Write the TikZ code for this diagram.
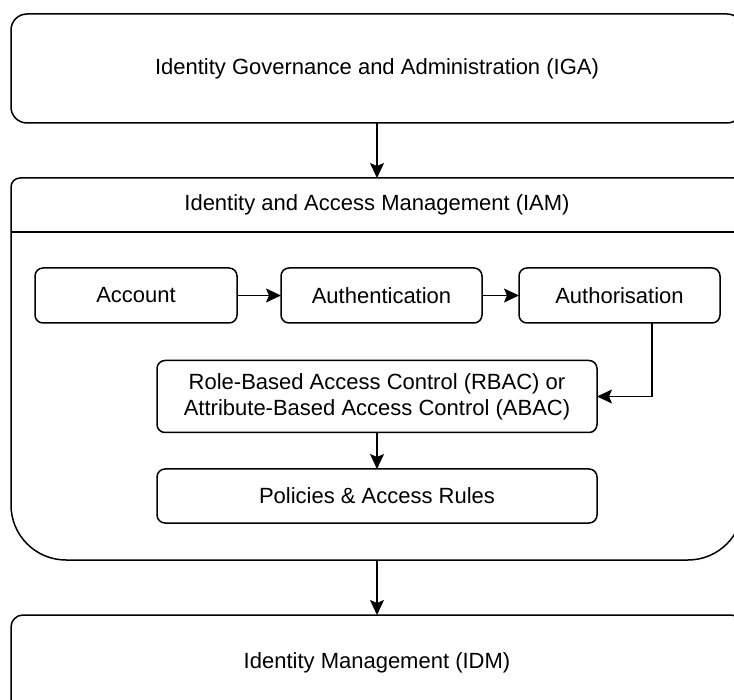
\documentclass[tikz,border=0pt]{standalone}
\usepackage{fontspec}
\setmainfont{Liberation Sans}
\usetikzlibrary{arrows.meta}
\begin{document}
\begin{tikzpicture}[x=1pt,y=-1pt,line width=1.5pt,
  txt/.style={font=\fontsize{22}{26}\selectfont, align=center},
  box/.style={txt, draw, rounded corners=8pt, inner sep=0pt, outer sep=0pt},
  bigbox/.style={box, rounded corners=16pt, minimum width=732pt},
  arr/.style={-{Stealth[length=15pt,width=14pt,inset=3pt]}}]
\useasboundingbox (0,0) rectangle (734,700);
\clip (0,0) rectangle (734,700);
% IGA
\node[bigbox, minimum height=109pt] (iga) at (377,68.5) {Identity Governance and Administration (IGA)};
% IAM container
\coordinate (iamtop) at (377,178);
\coordinate (iambot) at (377,560);
\draw[rounded corners=9pt] (11,232) -- (11,178) -- (743,178) -- (743,232);
\draw[rounded corners=55pt] (743,232) -- (743,560) -- (11,560) -- (11,232);
\draw (11,232) -- (743,232);
\node[txt] (iam) at (377,205) {Identity and Access Management (IAM)};
% inner boxes
\node[box, minimum width=202pt, minimum height=55pt] (acc) at (136,295.5) {Account};
\node[box, minimum width=201pt, minimum height=55pt] (authn) at (381.5,295.5) {Authentication};
\node[box, minimum width=201pt, minimum height=55pt] (authz) at (619.5,295.5) {Authorisation};
\node[box, minimum width=440pt, minimum height=72pt] (rbac) at (377,396.5) {Role-Based Access Control (RBAC) or\\Attribute-Based Access Control (ABAC)};
\node[box, minimum width=440pt, minimum height=54pt] (pol) at (377,496) {Policies \& Access Rules};
% IDM
\node[bigbox, rounded corners=12pt, minimum height=96pt] (idm) at (377,663) {Identity Management (IDM)};
% connectors
\draw[arr] (iga.south -| iamtop) -- (iamtop);
\draw[arr] (acc) -- (authn);
\draw[arr] (authn) -- (authz);
\draw[arr] ([xshift=32.5pt]authz.south) |- (rbac.east);
\draw[arr] (rbac) -- (pol);
\draw[arr] (iambot) -- (idm.north -| iambot);
\end{tikzpicture}
\end{document}
